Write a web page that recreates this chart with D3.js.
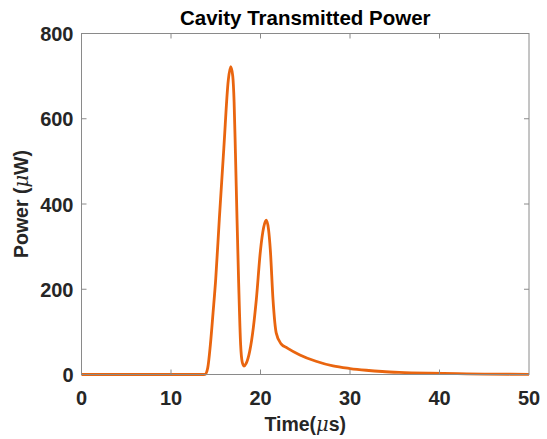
<!DOCTYPE html>
<html>
<head>
<meta charset="utf-8">
<script src="https://cdn.jsdelivr.net/npm/d3@7"></script>
<style>
  body { margin: 0; background: #fff; }
  svg text { font-family: "Liberation Sans", Arial, sans-serif; font-weight: bold; fill: #262626; }
</style>
</head>
<body>
<svg width="547" height="439"></svg>
<script>
// time in microseconds
var times = [0, 13.5, 13.8, 14.1, 14.4, 14.7, 15.0, 15.4, 15.9, 16.4, 16.67, 16.9, 17.05, 17.2, 17.37, 17.56, 17.78, 17.95, 18.15, 18.4, 18.8, 19.2, 19.53, 20.0, 20.35, 20.65, 20.9, 21.1, 21.4, 21.76, 22.3, 23.0, 24.4, 26.2, 28.1, 30.0, 31.8, 33.6, 35.5, 38.9, 42, 45, 50];
// transmitted power in microwatts
var power = [0, 0, 0.5, 15, 70, 145, 225, 365, 530, 690, 722, 700, 640, 520, 370, 215, 70, 30, 20, 26, 55, 110, 175, 292, 345, 362, 340, 292, 175, 97, 72, 62, 46, 31, 20, 14, 10, 7, 5, 3, 2, 1, 0.5];

var xTicks = [0, 10, 20, 30, 40, 50];
var yTicks = [0, 200, 400, 600, 800];

var svg = d3.select("svg"),
  margin = { top: 33.5, right: 18, bottom: 64.5, left: 81.5 },
  width = 547 - margin.left - margin.right,
  height = 439 - margin.top - margin.bottom;

var x = d3.scaleLinear().domain([0, 50]).range([0, width]);
var y = d3.scaleLinear().domain([0, 800]).range([height, 0]);

var g = svg.append("g")
  .attr("transform", "translate(" + margin.left + "," + margin.top + ")");

var data = times.map(function (t, i) { return { t: t, p: power[i] }; });

var line = d3.line()
  .x(function (d) { return x(d.t); })
  .y(function (d) { return y(d.p); })
  .curve(d3.curveMonotoneX);

g.append("path")
  .datum(data)
  .attr("fill", "none")
  .attr("stroke", "#E9650F")
  .attr("stroke-width", 2.8)
  .attr("d", line);

// box
g.append("rect")
  .attr("width", width)
  .attr("height", height)
  .attr("fill", "none")
  .attr("stroke", "#8a8a8a")
  .attr("stroke-width", 1);

// inward ticks on all sides
var tickLen = 5;
g.selectAll(".xt")
  .data(xTicks.slice(1, -1))
  .enter().append("path")
  .attr("stroke", "#8a8a8a")
  .attr("d", function (d) {
    return "M" + x(d) + "," + height + "v" + (-tickLen) + "M" + x(d) + ",0v" + tickLen;
  });
g.selectAll(".yt")
  .data(yTicks.slice(1, -1))
  .enter().append("path")
  .attr("stroke", "#8a8a8a")
  .attr("d", function (d) {
    return "M0," + y(d) + "h" + tickLen + "M" + width + "," + y(d) + "h" + (-tickLen);
  });

// tick labels
g.selectAll(".xl")
  .data(xTicks)
  .enter().append("text")
  .attr("x", function (d) { return x(d); })
  .attr("y", height + 30.5)
  .attr("text-anchor", "middle")
  .style("font-size", "20px")
  .text(function (d) { return d; });

g.selectAll(".yl")
  .data(yTicks)
  .enter().append("text")
  .attr("x", -8)
  .attr("y", function (d) { return y(d) + 7.5; })
  .attr("text-anchor", "end")
  .style("font-size", "20px")
  .text(function (d) { return d; });

// title and axis labels
svg.append("text")
  .attr("x", margin.left + width / 2)
  .attr("y", 25)
  .attr("text-anchor", "middle")
  .style("font-size", "20.5px")
  .style("fill", "#000")
  .text("Cavity Transmitted Power");

var xl = svg.append("text")
  .attr("x", margin.left + width / 2)
  .attr("y", 431)
  .attr("text-anchor", "middle")
  .style("font-size", "19.5px");
xl.append("tspan").text("Time(");
xl.append("tspan").style("font-style", "italic").style("font-family", "DejaVu Serif").style("font-weight", "normal").text("μ");
xl.append("tspan").text("s)");

var yl = svg.append("text")
  .attr("transform", "translate(28," + (margin.top + height / 2) + ") rotate(-90)")
  .attr("text-anchor", "middle")
  .style("font-size", "19.5px");
yl.append("tspan").text("Power (");
yl.append("tspan").style("font-style", "italic").style("font-family", "DejaVu Serif").style("font-weight", "normal").text("μ");
yl.append("tspan").text("W)");
</script>
</body>
</html>
